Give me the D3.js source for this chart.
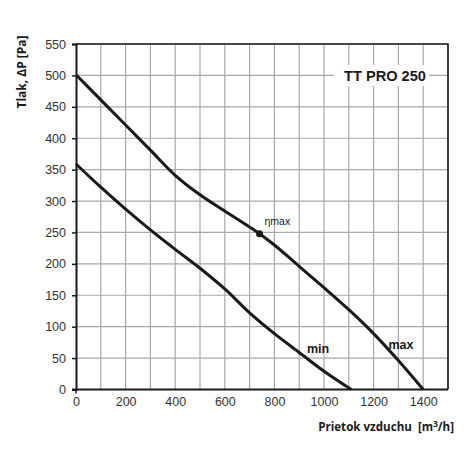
<!DOCTYPE html>
<html>
<head>
<meta charset="utf-8">
<script src="https://cdn.jsdelivr.net/npm/d3@7"></script>
<style>
	body { margin: 0; background: #fff; }
	svg { font-family: "Open Sans", sans-serif; }
</style>
</head>
<body>
<div id="chart"></div>
<script>
//Dados
var curveMax = [[0,501],[100,461],[200,421],[300,381],[400,341],[500,310],[600,284],[740,248],[800,230],[900,196],[1000,162],[1100,127],[1200,89],[1300,46],[1400,0]];
var curveMin = [[0,359],[100,322],[200,287],[300,254],[400,223],[500,193],[600,160],[700,122],[800,89],[900,59],[1000,29],[1110,0]];
var etaMax = [740,248];
var xTicks = [0,200,400,600,800,1000,1200,1400];
var yTicks = [0,50,100,150,200,250,300,350,400,450,500,550];
var xGrid = d3.range(0,1501,100);
var title = "TT PRO 250";

(function () {
	'use strict';
	var W = 470, H = 470;
	var left = 76, right = 448, top = 44, bottom = 389.5;
	var arial = "'Liberation Sans', Arial, sans-serif";

	var svg = d3.select("#chart").append("svg")
		.attr("width", W)
		.attr("height", H);

	//Escalas
	var x = d3.scaleLinear().domain([0,1500]).range([left,right]);
	var y = d3.scaleLinear().domain([0,550]).range([bottom,top]);

	//Grade
	svg.append("g").selectAll("line.gx")
		.data(xGrid.slice(1))
		.enter().append("line")
		.attr("x1", function(d) { return x(d); })
		.attr("x2", function(d) { return x(d); })
		.attr("y1", top).attr("y2", bottom)
		.attr("stroke", "#a8a8a8").attr("stroke-width", 1.2);
	svg.append("g").selectAll("line.gy")
		.data(yTicks.slice(1))
		.enter().append("line")
		.attr("x1", left).attr("x2", right)
		.attr("y1", function(d) { return y(d); })
		.attr("y2", function(d) { return y(d); })
		.attr("stroke", "#a8a8a8").attr("stroke-width", 1.2);

	//Borda superior e direita
	svg.append("path")
		.attr("d", "M" + left + "," + top + "H" + right + "V" + bottom)
		.attr("fill", "none").attr("stroke", "#1a1a1a").attr("stroke-width", 1.6);

	//Eixos
	var gx = svg.append("g")
		.attr("transform", "translate(0," + bottom + ")")
		.call(d3.axisBottom(x).tickValues(xTicks).tickFormat(d3.format("d")).tickSize(0).tickPadding(8));
	var gy = svg.append("g")
		.attr("transform", "translate(" + left + ",0)")
		.call(d3.axisLeft(y).tickValues(yTicks).tickFormat(d3.format("d")).tickSize(4).tickPadding(6));
	[gx, gy].forEach(function(g) {
		g.select(".domain").attr("stroke", "#1a1a1a").attr("stroke-width", 2);
		g.selectAll(".tick line").attr("stroke", "#1a1a1a").attr("stroke-width", 1.5);
		g.selectAll("text").attr("fill", "#333").style("font-size", "12.5px");
	});
	gx.select(".domain").attr("d", "M" + (left - 4) + ",0H" + right);
	gx.append("line").attr("x1", x(0)).attr("x2", x(0)).attr("y1", 0).attr("y2", 4)
		.attr("stroke", "#1a1a1a").attr("stroke-width", 1.5);

	//Caixa do título
	svg.append("rect")
		.attr("x", 334).attr("y", 65).attr("width", 95).attr("height", 21)
		.attr("fill", "#fff");
	svg.append("text")
		.attr("x", 385).attr("y", 81)
		.attr("text-anchor", "middle")
		.attr("font-family", arial)
		.attr("font-weight", "bold")
		.attr("font-size", "14.6px")
		.attr("fill", "#1a1a1a")
		.text(title);

	//Curvas
	var line = d3.line()
		.x(function(d) { return x(d[0]); })
		.y(function(d) { return y(d[1]); })
		.curve(d3.curveCatmullRom.alpha(0.5));
	svg.selectAll(".curve")
		.data([curveMax, curveMin])
		.enter().append("path")
		.attr("class", "curve")
		.attr("d", function(d) { return line(d); })
		.attr("fill", "none")
		.attr("stroke", "#1a1a1a")
		.attr("stroke-width", 3);

	//Ponto de eficiência máxima
	svg.append("circle")
		.attr("cx", x(etaMax[0])).attr("cy", y(etaMax[1]))
		.attr("r", 3.5).attr("fill", "#1a1a1a");
	svg.append("text")
		.attr("x", x(etaMax[0]) + 5).attr("y", y(etaMax[1]) - 9)
		.attr("font-family", arial)
		.attr("font-size", "10.5px").attr("fill", "#1a1a1a")
		.text("ηmax");

	//Rótulos das curvas
	svg.append("text")
		.attr("x", 318).attr("y", 353)
		.attr("text-anchor", "middle").attr("font-weight", "bold")
		.attr("font-family", arial)
		.attr("font-size", "12.5px").attr("fill", "#1a1a1a")
		.text("min");
	svg.append("text")
		.attr("x", 401).attr("y", 349)
		.attr("text-anchor", "middle").attr("font-weight", "bold")
		.attr("font-family", arial)
		.attr("font-size", "12.5px").attr("fill", "#1a1a1a")
		.text("max");

	//Títulos dos eixos
	svg.append("text")
		.attr("x", 454).attr("y", 431)
		.attr("text-anchor", "end").attr("font-weight", "bold")
		.attr("font-size", "11.6px").attr("fill", "#1a1a1a")
		.html("Prietok vzduchu&#160;&#160;[m<tspan dy='-4' font-size='8px'>3</tspan><tspan dy='4'>/h]</tspan>");
	svg.append("text")
		.attr("transform", "translate(26,72) rotate(-90)")
		.attr("text-anchor", "middle").attr("font-weight", "bold")
		.attr("font-size", "12px").attr("fill", "#1a1a1a")
		.text("Tlak, ΔP [Pa]");
})();
</script>
</body>
</html>
